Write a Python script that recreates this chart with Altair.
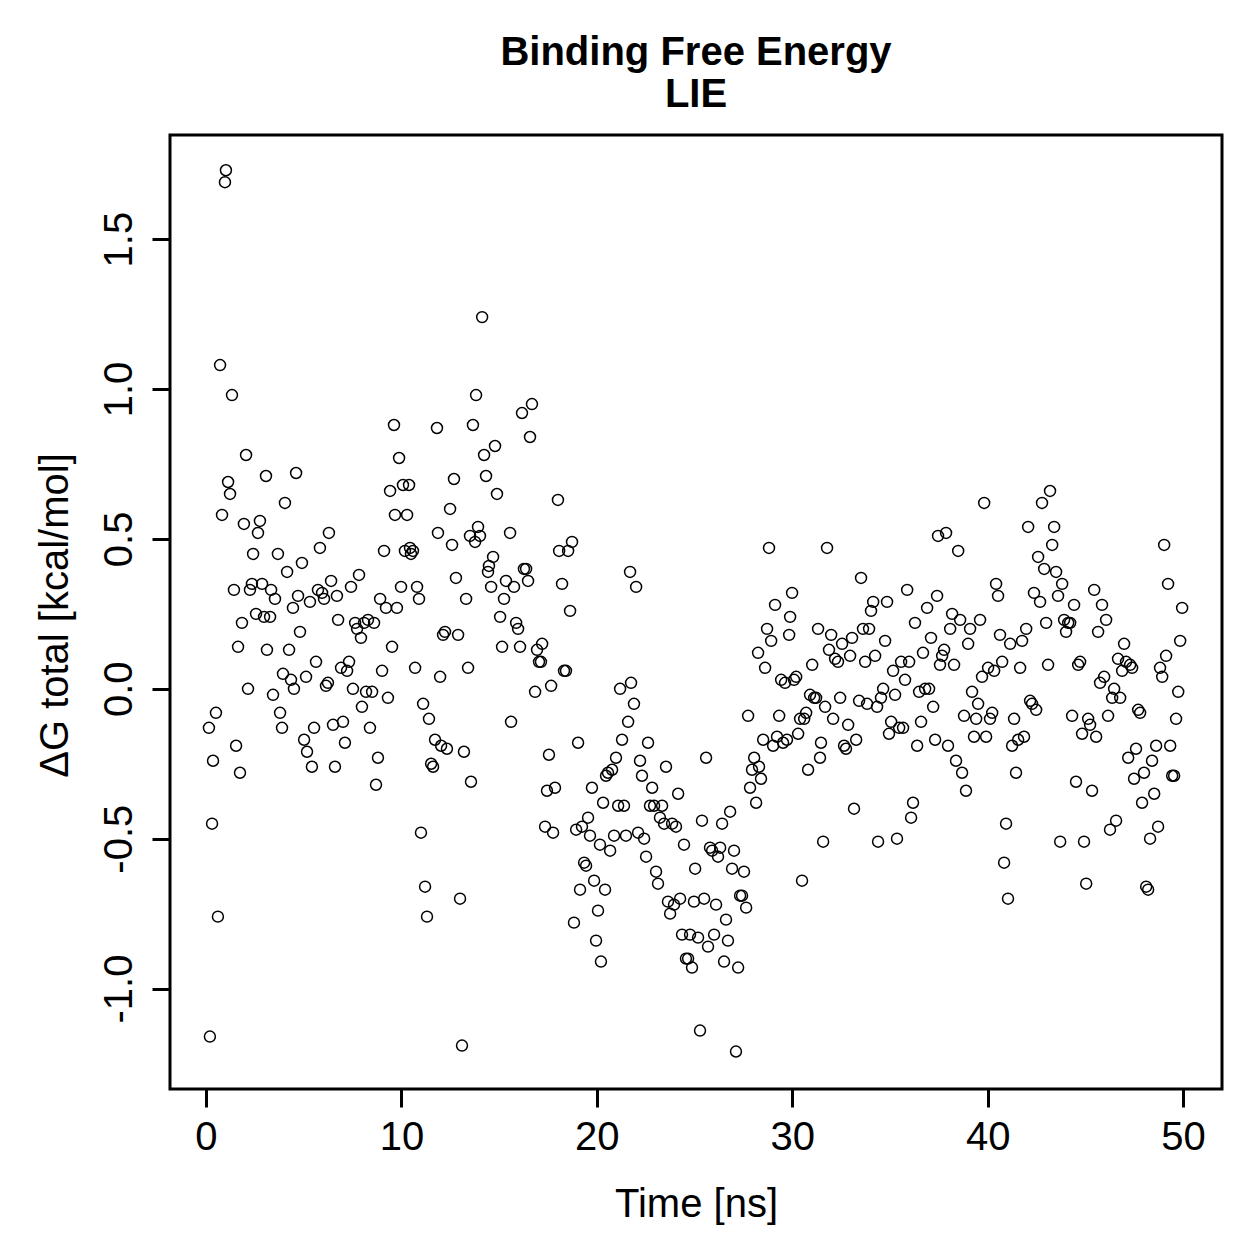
import altair as alt
import pandas as pd

# LIE binding free energy along the trajectory (ns, kcal/mol)
time_ns = [
    0.15, 0.20, 0.31, 0.36, 0.51, 0.61, 0.72, 0.82, 0.97, 1.02, 1.13, 1.23, 1.33, 1.43, 1.54, 1.64, 1.74, 1.84, 1.94, 2.05,
    2.15, 2.25, 2.35, 2.41, 2.56, 2.66, 2.76, 2.87, 2.97, 3.07, 3.12, 3.28, 3.33, 3.43, 3.53, 3.68, 3.79, 3.89, 3.94, 4.04,
    4.15, 4.25, 4.35, 4.45, 4.50, 4.61, 4.71, 4.81, 4.91, 5.02, 5.12, 5.17, 5.32, 5.42, 5.53, 5.63, 5.73, 5.83, 5.94, 6.04,
    6.14, 6.24, 6.29, 6.40, 6.50, 6.60, 6.70, 6.76, 6.91, 7.01, 7.11, 7.22, 7.32, 7.42, 7.52, 7.63, 7.73, 7.83, 7.93, 7.98,
    8.09, 8.19, 8.29, 8.39, 8.50, 8.60, 8.70, 8.80, 8.91, 9.01, 9.11, 9.21, 9.31, 9.42, 9.52, 9.62, 9.67, 9.77, 9.88, 9.98,
    10.08, 10.18, 10.29, 10.39, 10.44, 10.49, 10.59, 10.70, 10.80, 10.90, 11.00, 11.11, 11.21, 11.31, 11.41, 11.52, 11.62, 11.72, 11.82, 11.87,
    11.98, 12.03, 12.13, 12.23, 12.33, 12.49, 12.59, 12.69, 12.79, 12.90, 13.00, 13.10, 13.20, 13.31, 13.41, 13.51, 13.56, 13.66, 13.77, 13.82,
    13.92, 14.02, 14.13, 14.23, 14.33, 14.43, 14.48, 14.59, 14.69, 14.79, 14.89, 15.05, 15.15, 15.25, 15.35, 15.56, 15.61, 15.76, 15.87, 15.97,
    16.07, 16.17, 16.27, 16.38, 16.48, 16.58, 16.68, 16.84, 16.94, 17.04, 17.14, 17.20, 17.35, 17.45, 17.55, 17.66, 17.76, 17.86, 18.01, 18.07,
    18.22, 18.32, 18.42, 18.53, 18.63, 18.73, 18.83, 18.94, 19.04, 19.14, 19.24, 19.35, 19.45, 19.55, 19.65, 19.75, 19.86, 19.96, 20.06, 20.16,
    20.21, 20.32, 20.42, 20.47, 20.57, 20.68, 20.78, 20.88, 20.98, 21.09, 21.19, 21.29, 21.39, 21.49, 21.60, 21.70, 21.75, 21.90, 22.01, 22.11,
    22.21, 22.31, 22.42, 22.52, 22.62, 22.72, 22.83, 22.93, 23.03, 23.13, 23.23, 23.34, 23.44, 23.54, 23.64, 23.75, 23.85, 23.95, 24.05, 24.16,
    24.26, 24.36, 24.46, 24.56, 24.67, 24.77, 24.87, 24.97, 25.03, 25.18, 25.28, 25.38, 25.49, 25.59, 25.69, 25.79, 25.90, 26.00, 26.10, 26.20,
    26.31, 26.41, 26.51, 26.61, 26.71, 26.82, 26.92, 27.02, 27.12, 27.23, 27.33, 27.43, 27.53, 27.64, 27.74, 27.84, 27.94, 28.05, 28.15, 28.25,
    28.30, 28.40, 28.51, 28.61, 28.71, 28.81, 28.92, 29.02, 29.12, 29.22, 29.33, 29.43, 29.53, 29.63, 29.73, 29.84, 29.89, 29.99, 30.09, 30.20,
    30.30, 30.40, 30.50, 30.61, 30.71, 30.81, 30.91, 31.02, 31.12, 31.22, 31.32, 31.42, 31.47, 31.58, 31.68, 31.78, 31.88, 31.99, 32.09, 32.19,
    32.34, 32.45, 32.55, 32.65, 32.75, 32.86, 32.96, 33.06, 33.16, 33.27, 33.42, 33.52, 33.62, 33.73, 33.83, 33.93, 34.03, 34.14, 34.24, 34.34,
    34.39, 34.54, 34.65, 34.75, 34.85, 34.95, 35.06, 35.16, 35.26, 35.36, 35.47, 35.57, 35.67, 35.77, 35.88, 35.98, 36.08, 36.18, 36.28, 36.39,
    36.49, 36.59, 36.69, 36.80, 36.90, 37.00, 37.10, 37.21, 37.31, 37.41, 37.46, 37.56, 37.67, 37.77, 37.87, 37.97, 38.08, 38.18, 38.28, 38.38,
    38.49, 38.59, 38.69, 38.79, 38.89, 39.00, 39.10, 39.20, 39.30, 39.41, 39.51, 39.61, 39.71, 39.82, 39.92, 40.02, 40.12, 40.23, 40.33, 40.43,
    40.53, 40.63, 40.74, 40.84, 40.94, 41.04, 41.15, 41.25, 41.35, 41.45, 41.56, 41.66, 41.76, 41.86, 41.97, 42.07, 42.17, 42.27, 42.37, 42.48,
    42.58, 42.68, 42.78, 42.89, 42.99, 43.09, 43.19, 43.30, 43.40, 43.50, 43.60, 43.71, 43.81, 43.91, 44.01, 44.12, 44.22, 44.32, 44.42, 44.52,
    44.63, 44.73, 44.83, 44.93, 45.04, 45.14, 45.24, 45.34, 45.45, 45.55, 45.65, 45.75, 45.85, 45.96, 46.06, 46.16, 46.26, 46.37, 46.47, 46.57,
    46.67, 46.78, 46.88, 46.98, 47.08, 47.19, 47.29, 47.39, 47.49, 47.59, 47.70, 47.80, 47.90, 48.00, 48.11, 48.21, 48.31, 48.41, 48.52, 48.62,
    48.72, 48.82, 48.93, 49.03, 49.13, 49.23, 49.34, 49.44, 49.54, 49.64, 49.75, 49.85, 49.95,
]

dG_total = [
    -0.13, -1.16, -0.45, -0.24, -0.08, -0.76, 1.08, 0.58, 1.69, 1.73, 0.69, 0.65, 0.98, 0.33, -0.19, 0.14, -0.28, 0.22, 0.55, 0.78,
    0.00, 0.33, 0.35, 0.45, 0.25, 0.52, 0.56, 0.35, 0.24, 0.71, 0.13, 0.24, 0.33, -0.02, 0.30, 0.45, -0.08, -0.13, 0.05, 0.62,
    0.39, 0.13, 0.03, 0.27, 0.00, 0.72, 0.31, 0.19, 0.42, -0.17, 0.04, -0.21, 0.29, -0.26, -0.13, 0.09, 0.33, 0.47, 0.32, 0.30,
    0.01, 0.02, 0.52, 0.36, -0.12, -0.26, 0.31, 0.23, 0.07, -0.11, -0.18, 0.06, 0.09, 0.34, 0.00, 0.22, 0.20, 0.38, 0.17, -0.06,
    0.22, -0.01, 0.23, -0.13, -0.01, 0.22, -0.32, -0.23, 0.30, 0.06, 0.46, 0.27, -0.03, 0.66, 0.14, 0.88, 0.58, 0.27, 0.77, 0.34,
    0.68, 0.46, 0.58, 0.68, 0.47, 0.45, 0.46, 0.07, 0.34, 0.30, -0.48, -0.05, -0.66, -0.76, -0.10, -0.25, -0.26, -0.17, 0.87, 0.52,
    0.04, -0.19, 0.18, 0.19, -0.20, 0.60, 0.48, 0.70, 0.37, 0.18, -0.70, -1.19, -0.21, 0.30, 0.07, 0.51, -0.31, 0.88, 0.49, 0.98,
    0.54, 0.51, 1.24, 0.78, 0.71, 0.39, 0.41, 0.34, 0.44, 0.81, 0.65, 0.24, 0.14, 0.30, 0.36, 0.52, -0.11, 0.34, 0.22, 0.20,
    0.14, 0.92, 0.40, 0.40, 0.36, 0.84, 0.95, -0.01, 0.13, 0.09, 0.09, 0.15, -0.46, -0.34, -0.22, 0.01, -0.48, -0.33, 0.63, 0.46,
    0.35, 0.06, 0.06, 0.46, 0.26, 0.49, -0.78, -0.47, -0.18, -0.67, -0.46, -0.58, -0.59, -0.43, -0.49, -0.33, -0.64, -0.84, -0.74, -0.52,
    -0.91, -0.38, -0.67, -0.29, -0.28, -0.54, -0.27, -0.49, -0.23, -0.39, 0.00, -0.17, -0.39, -0.49, -0.11, 0.39, 0.02, -0.05, 0.34, -0.48,
    -0.24, -0.29, -0.50, -0.56, -0.18, -0.39, -0.33, -0.39, -0.61, -0.65, -0.43, -0.39, -0.45, -0.26, -0.71, -0.75, -0.45, -0.72, -0.46, -0.35,
    -0.70, -0.82, -0.52, -0.90, -0.90, -0.82, -0.93, -0.71, -0.60, -0.83, -1.14, -0.44, -0.70, -0.23, -0.86, -0.53, -0.54, -0.82, -0.72, -0.56,
    -0.53, -0.45, -0.91, -0.77, -0.84, -0.41, -0.60, -0.54, -1.21, -0.93, -0.69, -0.69, -0.61, -0.73, -0.09, -0.33, -0.27, -0.23, -0.38, 0.12,
    -0.26, -0.30, -0.17, 0.07, 0.20, 0.47, 0.16, -0.19, 0.28, -0.16, -0.09, 0.03, -0.18, 0.02, -0.17, 0.18, 0.24, 0.32, 0.03, 0.04,
    -0.15, -0.10, -0.64, -0.10, -0.08, -0.27, -0.02, 0.08, -0.03, -0.03, 0.20, -0.23, -0.18, -0.51, -0.06, 0.47, 0.13, 0.18, -0.10, 0.10,
    0.09, -0.03, 0.15, -0.19, -0.20, -0.12, 0.11, 0.17, -0.40, -0.17, -0.04, 0.37, 0.20, 0.09, -0.05, 0.20, 0.26, 0.29, 0.11, -0.06,
    -0.51, -0.03, 0.00, 0.16, 0.29, -0.15, -0.11, 0.06, -0.02, -0.50, -0.13, 0.09, -0.13, 0.03, 0.33, 0.09, -0.43, -0.38, 0.22, -0.19,
    -0.01, -0.11, 0.12, 0.00, 0.27, 0.00, 0.17, -0.06, -0.17, 0.31, 0.51, 0.08, 0.11, 0.13, 0.52, -0.19, 0.20, 0.25, 0.08, -0.24,
    0.46, 0.23, -0.28, -0.09, -0.34, 0.15, 0.20, -0.01, -0.16, -0.10, -0.05, 0.23, 0.04, 0.62, -0.16, 0.07, -0.10, -0.08, 0.06, 0.35,
    0.31, 0.18, 0.09, -0.58, -0.45, -0.70, 0.15, -0.19, -0.10, -0.28, -0.17, 0.07, 0.16, -0.16, 0.20, 0.54, -0.04, -0.05, 0.32, -0.07,
    0.44, 0.29, 0.62, 0.40, 0.22, 0.08, 0.66, 0.48, 0.54, 0.39, 0.31, -0.51, 0.35, 0.23, 0.19, 0.22, 0.22, -0.09, 0.28, -0.31,
    0.08, 0.09, -0.15, -0.51, -0.65, -0.10, -0.12, -0.34, 0.33, -0.16, 0.19, 0.02, 0.28, 0.04, 0.23, -0.09, -0.47, -0.03, 0.00, -0.44,
    0.10, -0.03, 0.06, 0.15, 0.09, -0.23, 0.08, 0.07, -0.30, -0.20, -0.07, -0.08, -0.38, -0.28, -0.66, -0.67, -0.50, -0.24, -0.35, -0.19,
    -0.46, 0.07, 0.04, 0.48, 0.11, 0.35, -0.19, -0.29, -0.29, -0.10, -0.01, 0.16, 0.27,
]

x_ticks = [0, 10, 20, 30, 40, 50]
y_ticks = [-1.0, -0.5, 0.0, 0.5, 1.0, 1.5]

df = pd.DataFrame({"time": time_ns, "dG": dG_total})

FONT = "Liberation Sans"

# tick labels with a plain hyphen for negatives
y_label_expr = "datum.value < 0 ? '-' + format(abs(datum.value), '.1f') : format(datum.value, '.1f')"

points = alt.Chart(df).mark_point(
    shape="circle", filled=False, color="black", size=120, strokeWidth=1.5, opacity=1
).encode(
    x=alt.X(
        "time:Q",
        scale=alt.Scale(domain=[-1.842, 51.99], nice=False, zero=False),
        axis=alt.Axis(
            title="Time [ns]",
            values=x_ticks,
            format="d",
            domain=False,
            grid=False,
            tickSize=18,
            tickWidth=3,
            tickColor="black",
            labelFontSize=40,
            labelColor="black",
            labelFont=FONT,
            labelBaseline="alphabetic",
            labelPadding=42,
            labelFlush=False,
            titleFontSize=40,
            titleFontWeight="normal",
            titleFont=FONT,
            titleColor="black",
            titleBaseline="alphabetic",
            titleY=127,
        ),
    ),
    y=alt.Y(
        "dG:Q",
        scale=alt.Scale(domain=[-1.335, 1.8475], nice=False, zero=False),
        axis=alt.Axis(
            title="ΔG total [kcal/mol]",
            values=y_ticks,
            labelExpr=y_label_expr,
            domain=False,
            grid=False,
            tickSize=18,
            tickWidth=3,
            tickColor="black",
            labelFontSize=40,
            labelColor="black",
            labelFont=FONT,
            labelAngle=270,
            labelAlign="center",
            labelBaseline="alphabetic",
            labelPadding=21,
            labelFlush=False,
            titleFontSize=40,
            titleFontWeight="normal",
            titleFont=FONT,
            titleColor="black",
            titleAngle=270,
            titleAlign="center",
            titleBaseline="alphabetic",
            titleX=-103,
            titleY=480,
        ),
    ),
)

chart = points.properties(
    width=1052,
    height=954,
    title=alt.TitleParams(
        text=["Binding Free Energy", "LIE"],
        font=FONT,
        fontSize=40,
        fontWeight="bold",
        color="black",
        anchor="middle",
        lineHeight=42,
        baseline="bottom",
        offset=20,
        dy=40,
    ),
    autosize=alt.AutoSizeParams(type="none"),
    padding={"left": 170, "top": 135, "right": 37, "bottom": 170},
).configure(
    background="white"
).configure_view(
    stroke="black", strokeWidth=3, fill="white"
)

chart.save("out.html", embed_options={"renderer": "svg", "actions": False})
